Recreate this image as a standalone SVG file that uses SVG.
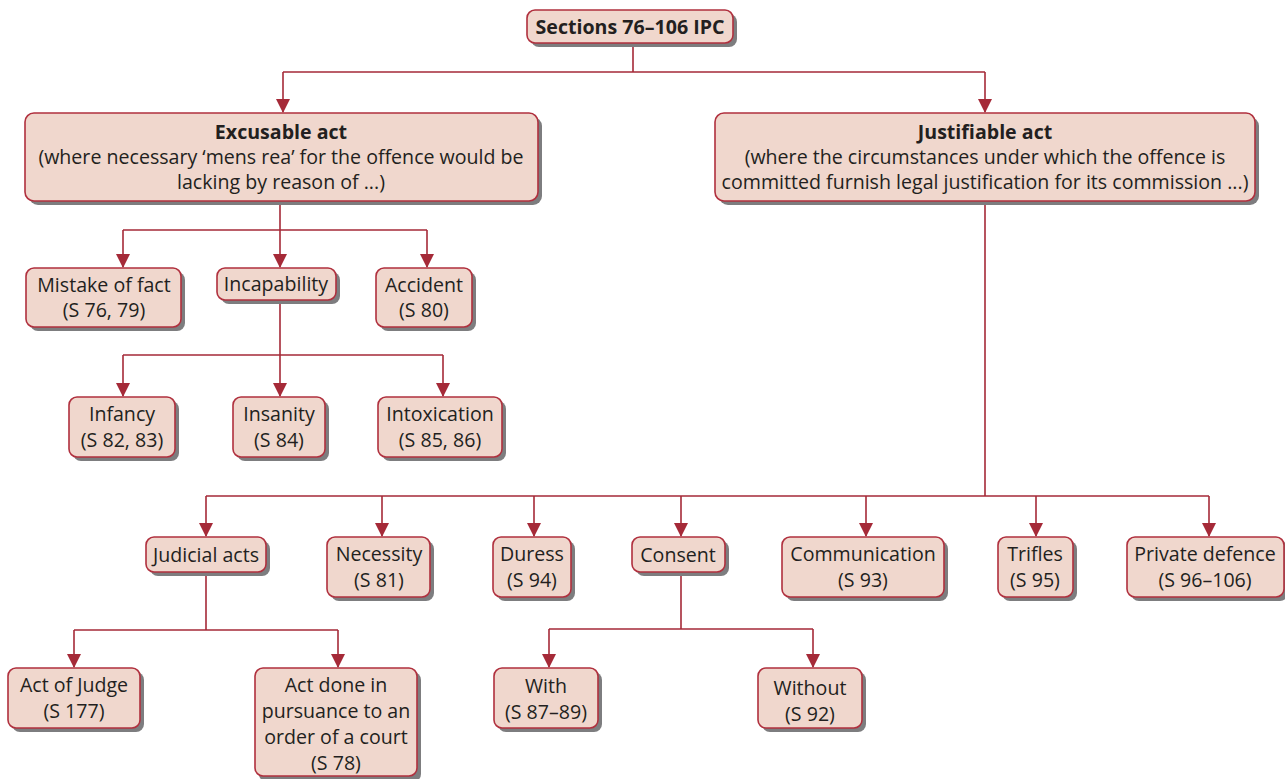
<svg xmlns="http://www.w3.org/2000/svg" width="1285" height="779" viewBox="0 0 1285 779">
  <defs>
    <marker id="arrow" markerUnits="userSpaceOnUse" markerWidth="14" markerHeight="14" viewBox="0 0 14 14" refX="13" refY="7" orient="auto">
      <path d="M0,0 L14,7 L0,14 Z" fill="#a52a38"/>
    </marker>
  </defs>
  <style>
    .box { fill: #f0d7cd; stroke: #b0303e; stroke-width: 1.6; }
    .shadow { fill: #7d7d7f; }
    .t { font-family: "Open Sans", "DejaVu Sans", sans-serif; font-size: 19.6px; fill: #231f20; text-anchor: middle; }
    .b { font-weight: bold; }
    .conn { fill: none; stroke: #a52a38; stroke-width: 1.6; }
  </style>

  <!-- connectors -->
  <g id="connectors">
    <path class="conn" d="M633,44 V72 M283,72 H985"/>
    <path class="conn" d="M283,72 V112" marker-end="url(#arrow)"/>
    <path class="conn" d="M985,72 V112" marker-end="url(#arrow)"/>

    <path class="conn" d="M280,201 V230 M123,230 H427"/>
    <path class="conn" d="M123,230 V267" marker-end="url(#arrow)"/>
    <path class="conn" d="M280,230 V267" marker-end="url(#arrow)"/>
    <path class="conn" d="M427,230 V267" marker-end="url(#arrow)"/>

    <path class="conn" d="M280,300 V355 M123,355 H443"/>
    <path class="conn" d="M123,355 V396" marker-end="url(#arrow)"/>
    <path class="conn" d="M280,355 V396" marker-end="url(#arrow)"/>
    <path class="conn" d="M443,355 V396" marker-end="url(#arrow)"/>

    <path class="conn" d="M985,201 V496 M206,496 H1209"/>
    <path class="conn" d="M206,496 V536" marker-end="url(#arrow)"/>
    <path class="conn" d="M382,496 V536" marker-end="url(#arrow)"/>
    <path class="conn" d="M534,496 V536" marker-end="url(#arrow)"/>
    <path class="conn" d="M681,496 V536" marker-end="url(#arrow)"/>
    <path class="conn" d="M866,496 V536" marker-end="url(#arrow)"/>
    <path class="conn" d="M1036,496 V536" marker-end="url(#arrow)"/>
    <path class="conn" d="M1209,496 V536" marker-end="url(#arrow)"/>

    <path class="conn" d="M206,572 V630 M74,630 H338"/>
    <path class="conn" d="M74,630 V667" marker-end="url(#arrow)"/>
    <path class="conn" d="M338,630 V667" marker-end="url(#arrow)"/>

    <path class="conn" d="M681,572 V629 M549,629 H813"/>
    <path class="conn" d="M549,629 V667" marker-end="url(#arrow)"/>
    <path class="conn" d="M813,629 V667" marker-end="url(#arrow)"/>
  </g>

  <!-- nodes -->
  <g id="root">
    <rect class="shadow" x="531" y="14" width="206" height="33" rx="8"/>
    <rect class="box" x="527" y="10" width="206" height="33" rx="8"/>
    <text class="t b" x="630" y="34">Sections 76–106 IPC</text>
  </g>

  <g id="excusable">
    <rect class="shadow" x="29" y="117" width="513" height="88" rx="9"/>
    <rect class="box" x="25" y="113" width="513" height="88" rx="9"/>
    <text class="t b" x="281" y="139">Excusable act</text>
    <text class="t" x="281" y="164">(where necessary ‘mens rea’ for the offence would be</text>
    <text class="t" x="281" y="189">lacking by reason of ...)</text>
  </g>

  <g id="justifiable">
    <rect class="shadow" x="719" y="117" width="540" height="88" rx="9"/>
    <rect class="box" x="715" y="113" width="540" height="88" rx="9"/>
    <text class="t b" x="985" y="139">Justifiable act</text>
    <text class="t" x="985" y="164">(where the circumstances under which the offence is</text>
    <text class="t" x="985" y="189">committed furnish legal justification for its commission ...)</text>
  </g>

  <g id="mistake">
    <rect class="shadow" x="30" y="272" width="155" height="59" rx="8"/>
    <rect class="box" x="26" y="268" width="155" height="59" rx="8"/>
    <text class="t" x="104" y="292">Mistake of fact</text>
    <text class="t" x="104" y="317">(S 76, 79)</text>
  </g>

  <g id="incapability">
    <rect class="shadow" x="221" y="272" width="119" height="32" rx="8"/>
    <rect class="box" x="217" y="268" width="119" height="32" rx="8"/>
    <text class="t" x="276" y="291">Incapability</text>
  </g>

  <g id="accident">
    <rect class="shadow" x="380" y="272" width="96" height="59" rx="8"/>
    <rect class="box" x="376" y="268" width="96" height="59" rx="8"/>
    <text class="t" x="424" y="292">Accident</text>
    <text class="t" x="424" y="317">(S 80)</text>
  </g>

  <g id="infancy">
    <rect class="shadow" x="73" y="401" width="106" height="60" rx="8"/>
    <rect class="box" x="69" y="397" width="106" height="60" rx="8"/>
    <text class="t" x="122" y="421">Infancy</text>
    <text class="t" x="122" y="447">(S 82, 83)</text>
  </g>

  <g id="insanity">
    <rect class="shadow" x="237" y="401" width="92" height="60" rx="8"/>
    <rect class="box" x="233" y="397" width="92" height="60" rx="8"/>
    <text class="t" x="279" y="421">Insanity</text>
    <text class="t" x="279" y="447">(S 84)</text>
  </g>

  <g id="intoxication">
    <rect class="shadow" x="382" y="401" width="124" height="60" rx="8"/>
    <rect class="box" x="378" y="397" width="124" height="60" rx="8"/>
    <text class="t" x="440" y="421">Intoxication</text>
    <text class="t" x="440" y="447">(S 85, 86)</text>
  </g>

  <g id="judicial">
    <rect class="shadow" x="150" y="541" width="120" height="35" rx="8"/>
    <rect class="box" x="146" y="537" width="120" height="35" rx="8"/>
    <text class="t" x="206" y="562">Judicial acts</text>
  </g>

  <g id="necessity">
    <rect class="shadow" x="331" y="541" width="103" height="60" rx="8"/>
    <rect class="box" x="327" y="537" width="103" height="60" rx="8"/>
    <text class="t" x="379" y="561">Necessity</text>
    <text class="t" x="379" y="587">(S 81)</text>
  </g>

  <g id="duress">
    <rect class="shadow" x="497" y="541" width="78" height="60" rx="8"/>
    <rect class="box" x="493" y="537" width="78" height="60" rx="8"/>
    <text class="t" x="532" y="561">Duress</text>
    <text class="t" x="532" y="587">(S 94)</text>
  </g>

  <g id="consent">
    <rect class="shadow" x="636" y="541" width="93" height="35" rx="8"/>
    <rect class="box" x="632" y="537" width="93" height="35" rx="8"/>
    <text class="t" x="678" y="562">Consent</text>
  </g>

  <g id="communication">
    <rect class="shadow" x="786" y="541" width="162" height="60" rx="8"/>
    <rect class="box" x="782" y="537" width="162" height="60" rx="8"/>
    <text class="t" x="863" y="561">Communication</text>
    <text class="t" x="863" y="587">(S 93)</text>
  </g>

  <g id="trifles">
    <rect class="shadow" x="1002" y="541" width="75" height="60" rx="8"/>
    <rect class="box" x="998" y="537" width="75" height="60" rx="8"/>
    <text class="t" x="1035" y="561">Trifles</text>
    <text class="t" x="1035" y="587">(S 95)</text>
  </g>

  <g id="private-defence">
    <rect class="shadow" x="1131" y="541" width="157" height="60" rx="8"/>
    <rect class="box" x="1127" y="537" width="157" height="60" rx="8"/>
    <text class="t" x="1205" y="561">Private defence</text>
    <text class="t" x="1205" y="587">(S 96–106)</text>
  </g>

  <g id="act-of-judge">
    <rect class="shadow" x="12" y="672" width="132" height="60" rx="8"/>
    <rect class="box" x="8" y="668" width="132" height="60" rx="8"/>
    <text class="t" x="74" y="692">Act of Judge</text>
    <text class="t" x="74" y="718">(S 177)</text>
  </g>

  <g id="court-order">
    <rect class="shadow" x="259" y="672" width="162" height="110" rx="8"/>
    <rect class="box" x="255" y="668" width="162" height="108" rx="8"/>
    <text class="t" x="336" y="692">Act done in</text>
    <text class="t" x="336" y="718">pursuance to an</text>
    <text class="t" x="336" y="744">order of a court</text>
    <text class="t" x="336" y="770">(S 78)</text>
  </g>

  <g id="with">
    <rect class="shadow" x="498" y="672" width="104" height="60" rx="8"/>
    <rect class="box" x="494" y="668" width="104" height="60" rx="8"/>
    <text class="t" x="546" y="693">With</text>
    <text class="t" x="546" y="719">(S 87–89)</text>
  </g>

  <g id="without">
    <rect class="shadow" x="762" y="672" width="104" height="60" rx="8"/>
    <rect class="box" x="758" y="668" width="104" height="60" rx="8"/>
    <text class="t" x="810" y="695">Without</text>
    <text class="t" x="810" y="721">(S 92)</text>
  </g>
</svg>
